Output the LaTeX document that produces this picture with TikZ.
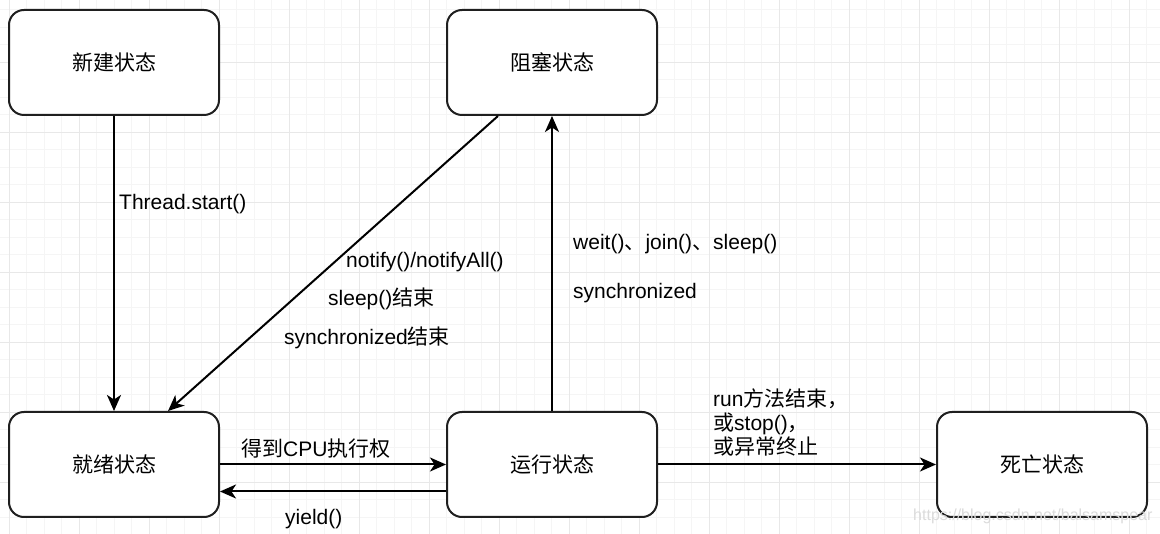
\documentclass[tikz,border=0pt]{standalone}
\usepackage{fontspec}
\setmainfont{Liberation Sans}
\newfontfamily\cjk{Noto Sans CJK SC}
\usetikzlibrary{arrows.meta}
\definecolor{gridminor}{HTML}{F5F5F5}
\definecolor{gridmajor}{HTML}{E8E8E8}
\tikzset{
  box/.style={draw=black!88, line width=2pt, rounded corners=15pt, fill=white,
    minimum width=210pt, minimum height=105pt, inner sep=0pt,
    font=\fontsize{21pt}{24pt}\selectfont\cjk},
  arr/.style={line width=2pt, draw=black, -{Stealth[length=16pt,width=14pt,inset=4.5pt]}},
  lbl/.style={anchor=west, inner sep=0pt, font=\fontsize{21pt}{24pt}\selectfont, align=left},
}
\begin{document}
\begin{tikzpicture}[x=1pt,y=-1pt]
\useasboundingbox (0,0) rectangle (1160,534);
\fill[white] (0,0) rectangle (1160,534);
% grid
\foreach \i in {0,...,66}{
  \draw[gridminor, line width=1pt] ({9.3+17.5*\i},0) -- ({9.3+17.5*\i},534);
}
\foreach \j in {0,...,30}{
  \draw[gridminor, line width=1pt] (0,{9.8+17.5*\j}) -- (1160,{9.8+17.5*\j});
}
\foreach \i in {0,...,16}{
  \draw[gridmajor, line width=1pt] ({9.3+70*\i},0) -- ({9.3+70*\i},534);
}
\foreach \j in {0,...,7}{
  \draw[gridmajor, line width=1pt] (0,{-7.7+70*\j}) -- (1160,{-7.7+70*\j});
}
% boxes
\node[box] (new)   at (114,62.5)  {新建状态};
\node[box] (block) at (552,62.5)  {阻塞状态};
\node[box] (ready) at (114,464.5) {就绪状态};
\node[box] (run)   at (552,464.5) {运行状态};
\node[box] (dead)  at (1042,464.5) {死亡状态};
% connectors
\draw[arr] (new.south) -- (ready.north);
\draw[arr] ([xshift=-54pt]block.south) -- ([xshift=54pt]ready.north);
\draw[arr] (run.north) -- (block.south);
\draw[arr] (ready.east) -- (run.west);
\draw[arr] ([yshift=-27pt]run.west) -- ([yshift=-27pt]ready.east);
\draw[arr] (run.east) -- (dead.west);
% labels
\node[lbl] (l1) at (119,204) {Thread.start()};
\node[lbl] (l2) at (346,262) {notify()/notifyAll()};
\node[lbl] (l3) at (328,299) {sleep(){\cjk 结束}};
\node[lbl] (l4) at (284,338) {synchronized{\cjk 结束}};
\node[lbl] (l5) at (573,244) {weit(){\cjk 、}join(){\cjk 、}sleep()};
\node[lbl] (l6) at (573,293) {synchronized};
\node[lbl] (l7) at (241,449) {{\cjk 得到}CPU{\cjk 执行权}};
\node[lbl] (l8) at (285,519) {yield()};
\node[lbl] (l9) at (713,422) {run{\cjk 方法结束，}\\{\cjk 或}stop(){\cjk ，}\\{\cjk 或异常终止}};
\node[anchor=west, inner sep=0pt, text=black!14, font=\fontsize{16pt}{18pt}\selectfont] (wm) at (913,516) {https://blog.csdn.net/balsamspear};
\end{tikzpicture}
\end{document}
